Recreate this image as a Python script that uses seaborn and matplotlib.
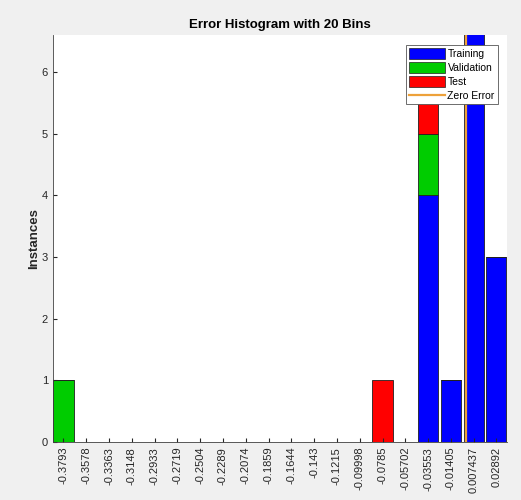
import numpy as np
import pandas as pd
import seaborn as sns
import matplotlib.pyplot as plt
from matplotlib.patches import Patch
from matplotlib.lines import Line2D

# bin centres as shown on the x axis
bin_labels = ['-0.3793', '-0.3578', '-0.3363', '-0.3148', '-0.2933', '-0.2719',
              '-0.2504', '-0.2289', '-0.2074', '-0.1859', '-0.1644', '-0.143',
              '-0.1215', '-0.09998', '-0.0785', '-0.05702', '-0.03553', '-0.01405',
              '0.007437', '0.02892']
centers = [float(s) for s in bin_labels]

# counts per bin for each set
training = [0, 0, 0, 0, 0, 0, 0, 0, 0, 0, 0, 0, 0, 0, 0, 0, 4, 1, 7, 3]
validation = [1, 0, 0, 0, 0, 0, 0, 0, 0, 0, 0, 0, 0, 0, 0, 0, 1, 0, 0, 0]
test = [0, 0, 0, 0, 0, 0, 0, 0, 0, 0, 0, 0, 0, 0, 1, 0, 1, 0, 0, 0]

df = pd.DataFrame({
    'error': centers * 3,
    'count': training + validation + test,
    'set': ['Training'] * 20 + ['Validation'] * 20 + ['Test'] * 20,
})

c = np.array(centers)
step = np.mean(np.diff(c))
edges = [c[0] - step / 2] + list((c[:-1] + c[1:]) / 2) + [c[-1] + step / 2]
edges = [float(e) for e in edges]

colors = {'Training': '#0000ff', 'Validation': '#00cc00', 'Test': '#ff0000'}
zero_col = '#eda13a'

plt.rcParams['font.family'] = ['Liberation Sans', 'DejaVu Sans']
fig = plt.figure(figsize=(5.21, 5.0), dpi=100, facecolor='#f0f0f0')
ax = fig.add_axes([0.1017, 0.116, 0.8713, 0.814])

sns.histplot(data=df, x='error', weights='count', hue='set',
             hue_order=['Test', 'Validation', 'Training'], bins=edges,
             multiple='stack', shrink=0.88, palette=colors, alpha=1,
             edgecolor='#202020', linewidth=0.6, legend=False, ax=ax)

ax.axvline(0, color=zero_col, linewidth=1.6)

ax.set_xlim(c[0] - step * 0.46, c[-1] + step * 0.46)
ax.set_ylim(0, 6.6)
ax.set_xticks(centers)
ax.set_xticklabels(bin_labels, rotation=90, fontsize=8, color='#262626')
ax.set_yticks(range(0, 7))
ax.tick_params(axis='y', labelsize=8, colors='#262626', direction='in', length=3)
ax.tick_params(axis='x', direction='in', length=3, colors='#262626')
ax.set_xlabel('')
ax.set_ylabel('Instances', fontsize=9.5, fontweight='bold', color='#262626', labelpad=1)
ax.set_title('Error Histogram with 20 Bins', fontsize=9.5, fontweight='bold', pad=5)
for side in ['top', 'right']:
    ax.spines[side].set_visible(False)
for side in ['left', 'bottom']:
    ax.spines[side].set_color('#404040')
    ax.spines[side].set_linewidth(0.6)

handles = [Patch(facecolor=colors['Training'], edgecolor='#202020', linewidth=0.5, label='Training'),
           Patch(facecolor=colors['Validation'], edgecolor='#202020', linewidth=0.5, label='Validation'),
           Patch(facecolor=colors['Test'], edgecolor='#202020', linewidth=0.5, label='Test'),
           Line2D([0], [0], color=zero_col, linewidth=1.6, label='Zero Error')]
leg = ax.legend(handles=handles, loc='upper right', bbox_to_anchor=(0.98, 0.975),
                fontsize=7.5, handlelength=3.4, handleheight=1.2, handletextpad=0.25,
                labelspacing=0.3, borderpad=0.3, borderaxespad=0, fancybox=False,
                framealpha=1, edgecolor='#555555')
leg.get_frame().set_linewidth(0.6)

fig.savefig('out.png', dpi=100, facecolor=fig.get_facecolor())
